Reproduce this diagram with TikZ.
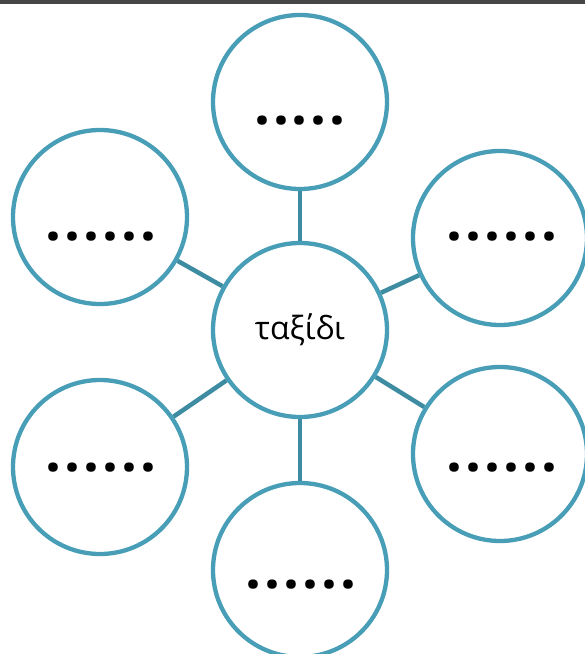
\documentclass[tikz,border=0pt]{standalone}
\usepackage{fontspec}
\setmainfont{Open Sans}
\definecolor{ring}{RGB}{72,158,182}
\definecolor{link}{RGB}{62,140,162}
\definecolor{topbar}{RGB}{70,70,70}
\begin{document}
\begin{tikzpicture}[x=1pt,y=-1pt,
  bubble/.style={circle,draw=ring,line width=4.3pt,minimum size=174pt,inner sep=0pt,fill=white},
  spoke/.style={draw=link,line width=4.5pt},
  dots/.style={anchor=base,inner sep=0pt,font=\fontsize{56}{56}\selectfont\bfseries}]
\useasboundingbox (0,0) rectangle (585,654);
\clip (0,0) rectangle (585,654);
\fill[white] (0,0) rectangle (585,654);
\fill[topbar] (0,0) rectangle (585,3.5);
\node[bubble] (c) at (300,330) {};
\node[bubble] (t) at (300,102) {};
\node[bubble] (lt) at (100,217) {};
\node[bubble] (rt) at (500,238) {};
\node[bubble] (lb) at (100,467) {};
\node[bubble] (rb) at (500,454) {};
\node[bubble] (b) at (300,570) {};
\foreach \n in {t,lt,rt,lb,rb,b} \draw[spoke] (c) -- (\n);
\node[font=\fontsize{32}{32}\selectfont] at (c.center) {ταξίδι};
\node[dots] (dt) at (300,124) {.\kern3pt.\kern3pt.\kern3pt.\kern3pt.};
\node[dots] (dlt) at (101,240) {.\kern3pt.\kern3pt.\kern3pt.\kern3pt.\kern3pt.};
\node[dots] (drt) at (502,240) {.\kern3pt.\kern3pt.\kern3pt.\kern3pt.\kern3pt.};
\node[dots] (dlb) at (101,471) {.\kern3pt.\kern3pt.\kern3pt.\kern3pt.\kern3pt.};
\node[dots] (drb) at (502,471) {.\kern3pt.\kern3pt.\kern3pt.\kern3pt.\kern3pt.};
\node[dots] (db) at (301,588) {.\kern3pt.\kern3pt.\kern3pt.\kern3pt.\kern3pt.};
\end{tikzpicture}
\end{document}
